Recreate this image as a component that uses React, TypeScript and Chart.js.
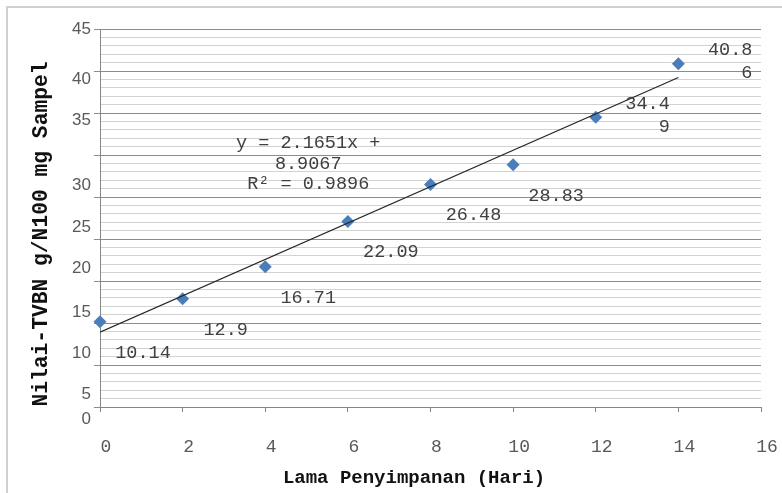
import React, { useEffect, useRef } from 'react';
import { Chart, registerables } from 'chart.js';

Chart.register(...registerables);

// ---- data ----
const days = [0, 2, 4, 6, 8, 10, 12, 14];
const tvbn = [10.14, 12.9, 16.71, 22.09, 26.48, 28.83, 34.49, 40.86];
const yTickLabels = [0, 5, 10, 15, 20, 25, 30, 35, 40, 45];
const xMin = 0;
const xMax = 16;
const xStep = 2;
const yMin = 0;
const yMax = 45;
const yMinorStep = 1;
const xTitle = 'Lama Penyimpanan (Hari)';
const yTitle = 'Nilai-TVBN g/N100 mg Sampel';

// least squares linear trendline
function regression(xs: number[], ys: number[]) {
  const n = xs.length;
  const mx = xs.reduce((a, b) => a + b, 0) / n;
  const my = ys.reduce((a, b) => a + b, 0) / n;
  let sxy = 0, sxx = 0, syy = 0;
  for (let i = 0; i < n; i++) {
    sxy += (xs[i] - mx) * (ys[i] - my);
    sxx += (xs[i] - mx) ** 2;
    syy += (ys[i] - my) ** 2;
  }
  const slope = sxy / sxx;
  const intercept = my - slope * mx;
  const r2 = (sxy * sxy) / (sxx * syy);
  return { slope, intercept, r2 };
}

const fit = regression(days, tvbn);

// ---- presentation (pixel offsets, fonts) ----
const MONO = '"Liberation Mono", "DejaVu Sans Mono", monospace';
const SANS = '"Liberation Sans", Arial, sans-serif';
const yLabelShift: Record<number, number> = { 45: 0, 40: 8, 35: 7, 30: 30, 25: 30, 20: 29, 15: 31, 10: 30, 5: 29, 0: 12 };

const overlayPlugin = {
  id: 'overlay',
  beforeDraw(chart: any) {
    const { ctx, width, height } = chart;
    ctx.save();
    ctx.fillStyle = '#ffffff';
    ctx.fillRect(0, 0, width, height);
    ctx.strokeStyle = '#d0d0d0';
    ctx.lineWidth = 2;
    ctx.beginPath();
    ctx.moveTo(7, height);
    ctx.lineTo(7, 7);
    ctx.lineTo(width, 7);
    ctx.stroke();
    ctx.restore();
  },
  afterDraw(chart: any) {
    const { ctx } = chart;
    const xs = chart.scales.x;
    const ys = chart.scales.y;
    ctx.save();

    // y tick labels
    ctx.font = `17px ${SANS}`;
    ctx.fillStyle = '#595959';
    ctx.textAlign = 'right';
    ctx.textBaseline = 'middle';
    yTickLabels.forEach((v) => {
      ctx.fillText(String(v), 91, ys.getPixelForValue(v) + (yLabelShift[v] || 0));
    });

    // axis titles
    ctx.fillStyle = '#111111';
    ctx.font = `bold 19px ${MONO}`;
    ctx.textAlign = 'center';
    ctx.fillText(xTitle, 414, 478);
    ctx.save();
    ctx.translate(42, 234);
    ctx.rotate(-Math.PI / 2);
    ctx.font = `bold 21.3px ${MONO}`;
    ctx.fillText(yTitle, 0, 0);
    ctx.restore();

    // data labels
    ctx.font = `18.5px ${MONO}`;
    ctx.fillStyle = '#404040';
    days.forEach((d, i) => {
      const px = xs.getPixelForValue(d);
      const py = ys.getPixelForValue(tvbn[i]);
      const txt = tvbn[i].toFixed(2).replace(/0$/, '').replace(/\.$/, '');
      if (i >= 6) {
        ctx.textAlign = 'right';
        ctx.fillText(txt.slice(0, 4), px + 74, py - 13.5);
        ctx.fillText(txt.slice(4), px + 74, py + 9.5);
      } else {
        ctx.textAlign = 'center';
        ctx.fillText(txt, px + 43, py + 31);
      }
    });

    // trendline equation
    const ex = xs.getPixelForValue(5.04);
    const ey = ys.getPixelForValue(31.4);
    ctx.textAlign = 'center';
    ctx.fillText(`y = ${fit.slope.toFixed(4)}x +`, ex, ey);
    ctx.fillText(`${fit.intercept.toFixed(4)}`, ex, ey + 20.5);
    ctx.fillText(`R\u00B2 = ${fit.r2.toFixed(4)}`, ex, ey + 41);

    ctx.restore();
  },
};

export default function App() {
  const ref = useRef<HTMLCanvasElement | null>(null);

  useEffect(() => {
    if (!ref.current) return;
    const lastX = days[days.length - 1];
    const chart = new Chart(ref.current, {
      type: 'scatter',
      data: {
        datasets: [
          {
            type: 'line',
            label: 'Linear',
            data: [
              { x: days[0], y: fit.slope * days[0] + fit.intercept },
              { x: lastX, y: fit.slope * lastX + fit.intercept },
            ],
            borderColor: '#262626',
            borderWidth: 1.2,
            pointRadius: 0,
            fill: false,
          } as any,
          {
            label: 'TVBN',
            data: days.map((d, i) => ({ x: d, y: tvbn[i] })),
            pointStyle: 'rectRot',
            pointRadius: 6.5,
            backgroundColor: '#4a7ebb',
            borderColor: '#4a7ebb',
            borderWidth: 0,
            clip: false,
          } as any,
        ],
      },
      options: {
        responsive: false,
        animation: false,
        events: [],
        layout: { padding: { left: 0, right: 21, top: 29, bottom: 0 } },
        plugins: { legend: { display: false }, tooltip: { enabled: false } },
        scales: {
          x: {
            type: 'linear',
            min: xMin,
            max: xMax,
            ticks: {
              stepSize: xStep,
              color: '#595959',
              font: { family: MONO, size: 18 },
              labelOffset: 6,
              padding: 24,
            },
            grid: { drawOnChartArea: false, tickLength: 5, color: '#868686' },
            border: { color: '#868686' },
            afterFit: (s: any) => {
              s.height = 86;
              s.paddingLeft = 0;
              s.paddingRight = 0;
            },
          },
          y: {
            type: 'linear',
            min: yMin,
            max: yMax,
            afterBuildTicks: (s: any) => {
              const t = [];
              for (let v = yMin; v <= yMax; v += yMinorStep) t.push({ value: v });
              s.ticks = t;
            },
            ticks: { display: false },
            grid: {
              color: (c: any) => (c.tick && c.tick.value % 5 === 0 ? '#8c8c8c' : '#d2d2d2'),
              tickColor: (c: any) => (c.tick && c.tick.value % 5 === 0 ? '#8c8c8c' : 'rgba(0,0,0,0)'),
              tickLength: 6,
            },
            border: { color: '#868686' },
            afterFit: (s: any) => {
              s.width = 100;
              s.paddingTop = 0;
              s.paddingBottom = 0;
            },
          },
        },
      },
      plugins: [overlayPlugin],
    });
    return () => chart.destroy();
  }, []);

  return (
    <canvas
      ref={ref}
      width={782}
      height={493}
      style={{ position: 'absolute', left: 0, top: 0, width: 782, height: 493 }}
    />
  );
}
